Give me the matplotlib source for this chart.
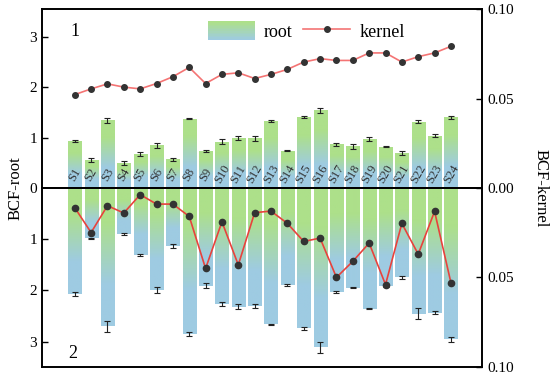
import numpy as np
import matplotlib
matplotlib.use('Agg')
import matplotlib.pyplot as plt
from matplotlib.colors import LinearSegmentedColormap, to_rgb
from matplotlib.patches import Rectangle
from matplotlib.lines import Line2D
from matplotlib.legend_handler import HandlerBase

plt.rcParams['font.family'] = ['Liberation Serif', 'DejaVu Serif']

# Data
samples = ['S%d' % i for i in range(1, 25)]

# panel 1
root1 = [0.93, 0.56, 1.35, 0.49, 0.68, 0.85, 0.57, 1.38, 0.74, 0.92, 1.00, 0.99,
         1.33, 0.74, 1.41, 1.55, 0.87, 0.83, 0.97, 0.82, 0.69, 1.32, 1.04, 1.41]
root1_err = [0.02, 0.04, 0.05, 0.04, 0.04, 0.05, 0.03, 0.01, 0.02, 0.05, 0.04, 0.05,
             0.02, 0.01, 0.02, 0.05, 0.03, 0.05, 0.04, 0.01, 0.04, 0.03, 0.03, 0.03]
kernel1 = [0.0522, 0.0554, 0.0582, 0.0564, 0.0554, 0.0584, 0.0622, 0.0674, 0.0584, 0.0635,
           0.0644, 0.0612, 0.0635, 0.0663, 0.0704, 0.0723, 0.0713, 0.0713, 0.0755, 0.0755,
           0.0704, 0.0734, 0.0755, 0.0792]

# panel 2
root2 = [2.07, 0.98, 2.70, 0.89, 1.31, 1.99, 1.14, 2.85, 1.91, 2.26, 2.32, 2.31,
         2.66, 1.89, 2.74, 3.11, 2.03, 1.95, 2.36, 1.91, 1.74, 2.45, 2.43, 2.95]
root2_err = [0.04, 0.01, 0.10, 0.02, 0.02, 0.05, 0.04, 0.04, 0.05, 0.04, 0.05, 0.04,
             0.01, 0.02, 0.03, 0.10, 0.02, 0.01, 0.01, 0.02, 0.03, 0.10, 0.03, 0.05]
kernel2 = [0.0110, 0.0249, 0.0099, 0.0140, 0.0037, 0.0090, 0.0090, 0.0159, 0.0450, 0.0189,
           0.0430, 0.0138, 0.0129, 0.0198, 0.0299, 0.0280, 0.0500, 0.0410, 0.0308, 0.0540,
           0.0198, 0.0370, 0.0131, 0.0530]

green = '#ade08a'
blue = '#9ecbe2'
cmap = LinearSegmentedColormap.from_list('gb', [(0, blue), (0.3, blue), (0.75, green), (1, green)])
x = np.arange(1, 25)
grad = np.linspace(0, 1, 100).reshape(-1, 1)


def gradient_bars(ax, vals, errs, flip):
    bars = ax.bar(x, vals, width=0.8, color='none', edgecolor='none')
    for b in bars:
        g = grad[::-1] if flip else grad
        im = ax.imshow(g, cmap=cmap, extent=(b.get_x(), b.get_x() + b.get_width(), 0, b.get_height()),
                       origin='lower', aspect='auto', zorder=1, vmin=0, vmax=1)
        im.set_clip_path(b)
    ax.errorbar(x, vals, yerr=errs, fmt='none', ecolor='#222222', elinewidth=0.8,
                capsize=2.5, capthick=0.8, zorder=3)


class GradHandler(HandlerBase):
    def create_artists(self, legend, orig_handle, xdescent, ydescent, width, height, fontsize, trans):
        n = 12
        arts = []
        c1, c2 = np.array(to_rgb(blue)), np.array(to_rgb(green))
        for i in range(n):
            t = i / (n - 1)
            col = c1 + (c2 - c1) * t
            r = Rectangle((-xdescent, -ydescent + height * i / n), width, height / n + 0.3,
                          facecolor=col, edgecolor='none', transform=trans)
            arts.append(r)
        return arts


fig = plt.figure(figsize=(5.5, 3.79), dpi=100)
L, W = 0.0764, 0.8
ax1 = fig.add_axes([L, 0.504, W, 0.472])
ax2 = fig.add_axes([L, 0.032, W, 0.472])

gradient_bars(ax1, root1, root1_err, False)
gradient_bars(ax2, root2, root2_err, True)

for xi, s in zip(x, samples):
    ax1.text(xi, 0.27, s, rotation=60, ha='center', va='center', fontsize=9, color='#333333', zorder=4)

ax1.set_xlim(-1, 25.9)
ax2.set_xlim(-1, 25.9)
ax1.set_ylim(0, 3.56)
ax2.set_ylim(3.49, 0)
ax1.set_yticks([0, 1, 2, 3])
ax2.set_yticks([1, 2, 3])

ax1r = ax1.twinx()
ax2r = ax2.twinx()
ax1r.plot(x, kernel1, color='#f47474', lw=1.2, marker='o', ms=4,
          mfc='#333333', mec='#333333', zorder=5)
ax2r.plot(x, kernel2, color='#e8423c', lw=1.2, marker='o', ms=4.5,
          mfc='#333333', mec='#333333', zorder=5)
ax1r.set_ylim(0, 0.1)
ax2r.set_ylim(0.1, 0)
ax1r.set_yticks([0, 0.05, 0.10])
ax1r.set_yticklabels(['0.00', '0.05', '0.10'])
ax2r.set_yticks([0.05, 0.10])
ax2r.set_yticklabels(['0.05', '0.10'])

for a in (ax1, ax2, ax1r, ax2r):
    a.set_xticks([])
    a.tick_params(axis='y', direction='in', length=4, width=1, labelsize=11)
    for sp in a.spines.values():
        sp.set_linewidth(1.2)

ax1.text(0.065, 0.85, '1', transform=ax1.transAxes, fontsize=13)
ax2.text(0.06, 0.05, '2', transform=ax2.transAxes, fontsize=13)

fig.text(0.028, 0.504, 'BCF-root', rotation=90, ha='center', va='center', fontsize=12)
fig.text(0.982, 0.504, 'BCF-kernel', rotation=-90, ha='center', va='center', fontsize=12)

handles = [Rectangle((0, 0), 1, 1),
           Line2D([0], [0], color='#f47474', lw=1.2, marker='o', ms=4, mfc='#333333', mec='#333333')]
ax1r.legend(handles, ['root', 'kernel'], handler_map={Rectangle: GradHandler()},
            loc='upper center', bbox_to_anchor=(0.6, 1.02), ncol=2, frameon=False,
            fontsize=13, handlelength=2.6, handleheight=1.2, columnspacing=0.6, handletextpad=0.5)

fig.savefig('out.png', dpi=100)
